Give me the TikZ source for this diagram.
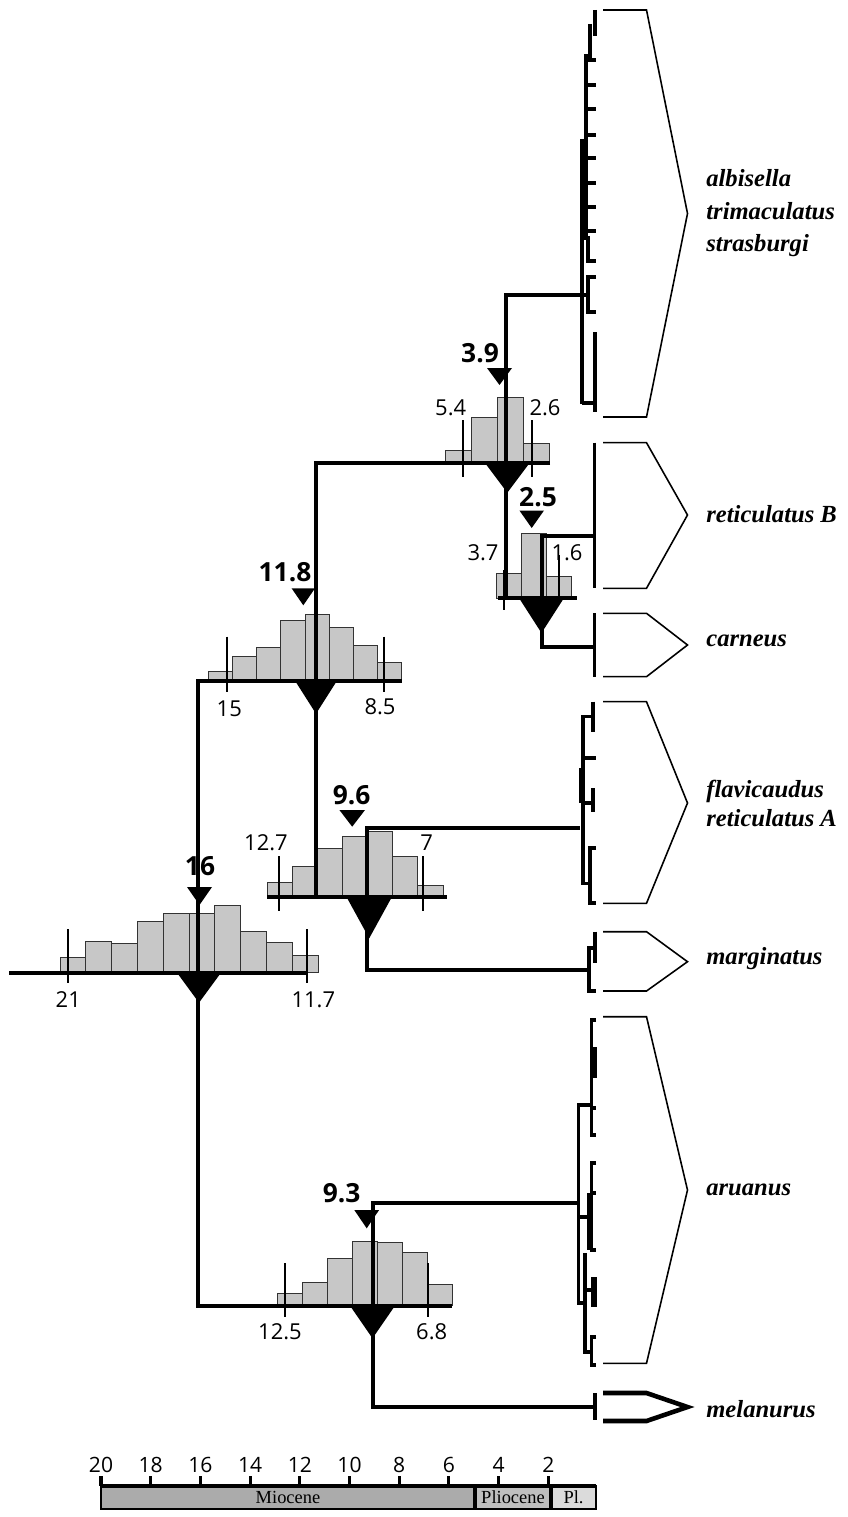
\documentclass[tikz,border=0pt]{standalone}
\usepackage{fontspec}
\setmainfont{Liberation Serif}
\newfontfamily\numfont{Open Sans}

% bars of a histogram: start x, bar width, baseline, list of bar tops
\newcommand{\hist}[4]{\foreach \h [count=\i from 0] in {#4}{\draw[bar] ({#1+\i*#2},#3) rectangle ({#1+(\i+1)*#2},\h);}}
% filled triangle pointing down: x, top y, half width, height
\newcommand{\tri}[4]{\fill ({#1-#3},#2) -- ({#1+#3},#2) -- (#1,{#2+#4}) -- cycle;}
% outline that groups the tips of a clade: top, point, bottom
\newcommand{\cladebox}[4][]{\draw[clade,#1] (603,#2) -- (646.5,#2) -- (687.5,#3) -- (646.5,#4) -- (603,#4);}

\begin{document}
\begin{tikzpicture}[x=0.02cm,y=-0.02cm,
    branch/.style={line width=2.3pt},
    tipline/.style={line width=1.9pt},
    fatline/.style={line width=3.4pt},
    tickline/.style={line width=1.1pt},
    bar/.style={fill=black!22, draw=black!80, line width=0.55pt},
    clade/.style={line width=0.9pt},
    age/.style={font=\numfont\bfseries\fontsize{15}{18}\selectfont, inner sep=0pt},
    lim/.style={font=\numfont\fontsize{12.5}{14}\selectfont, inner sep=0pt},
    scalelab/.style={font=\numfont\fontsize{12}{14}\selectfont, inner sep=0pt},
    taxon/.style={anchor=west, align=left, inner sep=0pt, font=\fontsize{14}{18.5}\selectfont\bfseries\itshape}]
    \useasboundingbox (0,0) rectangle (848,1517);

    % tree nodes and branch ends
    \coordinate (root) at (9,972.7);
    \coordinate (e16) at (307,972.7);
    \coordinate (v16) at (198,1000);
    \coordinate (e118) at (401.7,680.7);
    \coordinate (v118) at (316,897.3);
    \coordinate (e39) at (550,462.7);
    \coordinate (v39) at (506,598);
    \coordinate (v25) at (541.7,598);
    \coordinate (v96) at (367.3,900);
    \coordinate (e93) at (452.3,1305.7);
    \coordinate (v93) at (372.7,1300);
    \coordinate (alb) at (582,295);
    \coordinate (retB) at (594,536);
    \coordinate (carn) at (594,647);
    \coordinate (flav) at (580,828.3);
    \coordinate (marg) at (589,970);
    \coordinate (aru) at (578.3,1203.3);
    \coordinate (mel) at (595,1407);

    % histograms
    \hist{60}{25.8}{972.7}{957.7,941.7,943.7,921.7,913.7,913.3,905.7,931,942,955.3}
    \hist{208.3}{24.2}{680.7}{671.7,656,647.7,620,614.3,627.3,645,662.7}
    \hist{445}{26.2}{462.7}{450.7,417,397.7,443}
    \hist{496}{25.2}{598}{573.3,533.3,576}
    \hist{267.3}{25.1}{897.3}{882.7,866,848.3,836,831,856,885}
    \hist{277.3}{25}{1305.7}{1293.3,1282.3,1258.3,1241,1242.7,1252.7,1284.3}

    % branches
    \draw[branch] (root) -- (e16);
    \draw[branch] (e118) -| (v16) |- (e93);
    \draw[branch] (e39) -| (v118);
    \draw[branch] (267,897.3) -- (446.7,897.3);
    \draw[branch] (alb) -| (v39);
    \draw[branch] (498,598) -- (577,598);
    \draw[branch] (retB) -| (v25) |- (carn);
    \draw[branch] (flav) -| (v96) |- (marg);
    \draw[branch] (aru) -| (v93) |- (mel);

    % interval limits
    \draw[tickline] (68.3,929) -- (68.3,982.7);
    \draw[tickline] (307,929) -- (307,982.7);
    \draw[tickline] (226.7,636.7) -- (226.7,691.7);
    \draw[tickline] (384,636.7) -- (384,691.7);
    \draw[tickline] (463.3,420) -- (463.3,476.7);
    \draw[tickline] (531.7,420) -- (531.7,476.7);
    \draw[tickline] (504,570) -- (504,610);
    \draw[tickline] (559,555) -- (559,597);
    \draw[tickline] (279.3,856) -- (279.3,910.7);
    \draw[tickline] (423.3,856) -- (423.3,910.7);
    \draw[tickline] (285,1263.3) -- (285,1316.7);
    \draw[tickline] (428.3,1263.3) -- (428.3,1316.7);

    % age marks and node triangles
    \tri{199.5}{887}{12.5}{18}
    \tri{199}{972.7}{22}{30}
    \tri{303.3}{588.3}{11.7}{17}
    \tri{316}{680.7}{21}{33}
    \tri{499.5}{368}{12.5}{17}
    \tri{507.3}{462.7}{22.5}{30}
    \tri{531.7}{510.5}{12.3}{17.5}
    \tri{541.5}{598}{22.5}{35}
    \tri{352.2}{810}{12.8}{16.7}
    \tri{369.2}{897.3}{22.5}{41}
    \tri{366.7}{1210}{12.4}{18.3}
    \tri{372.5}{1305.7}{22.5}{32.6}

    % ages
    \node[age] (a16) at (200,866) {16};
    \node[age] (a118) at (285,572) {11.8};
    \node[age] (a39) at (480,353) {3.9};
    \node[age] (a25) at (538,497) {2.5};
    \node[age] (a96) at (351.7,795) {9.6};
    \node[age] (a93) at (341.7,1193) {9.3};
    \node[lim] (l21) at (68.3,1000) {21};
    \node[lim] (l117) at (313.3,1000) {11.7};
    \node[lim] (l15) at (229.3,708.3) {15};
    \node[lim] (l85) at (380,707) {8.5};
    \node[lim] (l54) at (450.7,408) {5.4};
    \node[lim] (l26) at (545,408) {2.6};
    \node[lim] (l37) at (483,553) {3.7};
    \node[lim] (l16) at (567,553) {1.6};
    \node[lim] (l127) at (266,843) {12.7};
    \node[lim] (l7) at (426.7,843) {7};
    \node[lim] (l125) at (280,1331.7) {12.5};
    \node[lim] (l68) at (431.7,1331.7) {6.8};

    % albisella clade
    \draw[tipline] (595,10) -- (595,36);
    \draw[tipline] (590,24) -- (590,56) -- (586,56) -- (586,236);
    \draw[fatline] (583.5,139) -- (583.5,234);
    \foreach \y in {60,85,109,135,158,183,207,231}
        \draw[tipline] (586,\y) -- (596,\y);
    \draw[tipline] (582,139) -- (582,404);
    \draw[tipline] (582,238) -- (588,238) -- (588,261) -- (596,261);
    \draw[tipline] (596,277) -- (588,277) -- (588,312) -- (596,312);
    \draw[tipline] (582,295) -- (588,295);
    \draw[tipline] (595,332) -- (595,412);
    \draw[tipline] (582,403) -- (595,403);
    % reticulatus B and carneus
    \draw[tipline] (594.3,442.7) -- (594.3,588.3);
    \draw[tipline] (594.3,613.3) -- (594.3,676.7);
    % flavicaudus clade
    \draw[tipline] (593,701.7) -- (593,731.7);
    \draw[tipline] (593,716.7) -- (583,716.7) -- (583,883.3) -- (590,883.3);
    \draw[fatline] (581.5,768) -- (581.5,803);
    \draw[tipline] (583,758) -- (596,758);
    \draw[tipline] (593,788) -- (593,811.7);
    \draw[tipline] (583,803) -- (593,803);
    \draw[tipline] (596,848) -- (590,848) -- (590,903) -- (596,903);
    % marginatus
    \draw[tipline] (595,931.7) -- (595,963);
    \draw[tipline] (595,948) -- (589,948) -- (589,991) -- (596,991);
    % aruanus clade
    \draw[tipline] (596,1020) -- (591.7,1020) -- (591.7,1135) -- (596,1135);
    \draw[fatline] (594,1047) -- (594,1078);
    \draw[tipline] (591.7,1108) -- (596,1108);
    \draw[tipline] (591.7,1105) -- (578.3,1105) -- (578.3,1303) -- (585,1303);
    \draw[tipline] (596,1163) -- (591.7,1163) -- (591.7,1193) -- (596,1193);
    \draw[fatline] (590,1193) -- (590,1250);
    \draw[tipline] (590,1250) -- (596,1250);
    \draw[tipline] (578.3,1217) -- (590,1217);
    \draw[tipline] (585,1253) -- (585,1352) -- (591.7,1352);
    \draw[fatline] (594,1277) -- (594,1307);
    \draw[tipline] (585,1290) -- (594,1290);
    \draw[tipline] (596,1337) -- (591.7,1337) -- (591.7,1365) -- (596,1365);
    % melanurus
    \draw[tipline] (595,1393) -- (595,1420);

    % clade outlines
    \cladebox{10}{213.5}{417}
    \cladebox{442.7}{515}{588.3}
    \cladebox{613.3}{645}{676.7}
    \cladebox{701.7}{803}{903.3}
    \cladebox{931.7}{961.7}{991}
    \cladebox{1016.7}{1190}{1363.3}
    \cladebox[line width=2.6pt]{1393}{1407}{1421}

    % taxa
    \node[taxon] (t-alb) at (706,213.5) {albisella\\trimaculatus\\strasburgi};
    \node[taxon] (t-retB) at (706,514) {reticulatus B};
    \node[taxon] (t-carn) at (706,641) {carneus};
    \node[taxon, font=\fontsize{14}{16.5}\selectfont\bfseries\itshape] (t-flav) at (706,803) {flavicaudus\\reticulatus A};
    \node[taxon] (t-marg) at (706,959) {marginatus};
    \node[taxon] (t-aru) at (706,1190) {aruanus};
    \node[taxon] (t-mel) at (706,1409) {melanurus};

    % time scale
    \fill[black!33] (101,1486) rectangle (475,1509);
    \fill[black!25] (475,1486) rectangle (551,1509);
    \fill[black!14] (551,1486) rectangle (596,1509);
    \draw[line width=1.3pt] (101,1486) rectangle (596,1509);
    \draw[line width=2.2pt] (101,1486) -- (596,1486);
    \draw[line width=2pt] (475,1486) -- (475,1509);
    \draw[line width=2pt] (551,1486) -- (551,1509);
    \foreach \t in {20,18,...,2}{
        \draw[line width=1.8pt] ({101+(20-\t)*24.85},1476) -- ({101+(20-\t)*24.85},1486);
        \node[scalelab] (tk\t) at ({101+(20-\t)*24.85},1465) {\t};
    }
    \node[font=\fontsize{10.5}{12}\selectfont] (ep-mio) at (288,1497.5) {Miocene};
    \node[font=\fontsize{10.5}{12}\selectfont] (ep-pli) at (513,1497.5) {Pliocene};
    \node[font=\fontsize{10.5}{12}\selectfont] (ep-ple) at (573.5,1497.5) {Pl.};
\end{tikzpicture}
\end{document}
